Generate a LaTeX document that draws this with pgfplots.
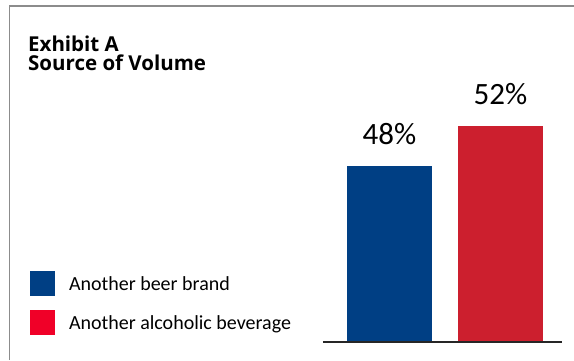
\documentclass[border=0pt]{standalone}
\usepackage{fontspec}
\setmainfont{Carlito}
\newfontfamily\titlefont{Open Sans}
\usepackage{pgfplots}
\pgfplotsset{compat=1.18}
\definecolor{beerblue}{RGB}{0,63,132}
\definecolor{barred}{RGB}{204,31,46}
\definecolor{legred}{RGB}{240,0,40}
\definecolor{framegray}{RGB}{140,140,140}
\begin{document}
\begin{tikzpicture}[x=1pt,y=1pt]
\useasboundingbox (0,0) rectangle (574,360);
\draw[framegray, line width=1.3pt] (9.5,0) -- (9.5,354) -- (574.5,354);
\node[anchor=base west, inner sep=0pt, font=\titlefont\bfseries\fontsize{20.5}{20.5}\selectfont] at (28,308.3) {Exhibit A};
\node[anchor=base west, inner sep=0pt, font=\titlefont\bfseries\fontsize{20.5}{20.5}\selectfont] at (28,289.3) {Source of Volume};
\begin{axis}[
  at={(323pt,18pt)}, anchor=south west,
  scale only axis, width=239pt, height=336pt,
  xmin=-0.599, xmax=1.554, ymin=30.4, ymax=64,
  axis line style={draw=none}, ticks=none,
  ybar, bar shift=0pt, bar width=84.5pt,
  point meta=explicit symbolic,
  nodes near coords,
  every node near coord/.append style={anchor=base, yshift=22pt, font=\fontsize{31}{31}\selectfont, text=black},
  legend style={draw=none, fill=none, inner sep=0pt, outer sep=0pt,
    at={(-1.2259,0.2113)}, anchor=north west,
    font=\fontsize{20}{20}\selectfont, row sep=14pt,
    nodes={inner sep=0pt, anchor=base west}},
  legend cell align=left,
  legend image code/.code={\fill[#1] (0pt,-5.5pt) rectangle (25pt,19.5pt); \path (39pt,0pt);},
]
\addplot[fill=beerblue, draw=none, forget plot] coordinates {(0,48) [48\%]};
\addplot[fill=barred, draw=none, forget plot] coordinates {(1,52) [52\%]};
\draw[black!85, line width=2pt] (rel axis cs:0,0) -- (rel axis cs:1,0);
\addlegendimage{fill=beerblue, draw=none}
\addlegendentry{Another beer brand}
\addlegendimage{fill=legred, draw=none}
\addlegendentry{Another alcoholic beverage}
\end{axis}
\end{tikzpicture}
\end{document}
